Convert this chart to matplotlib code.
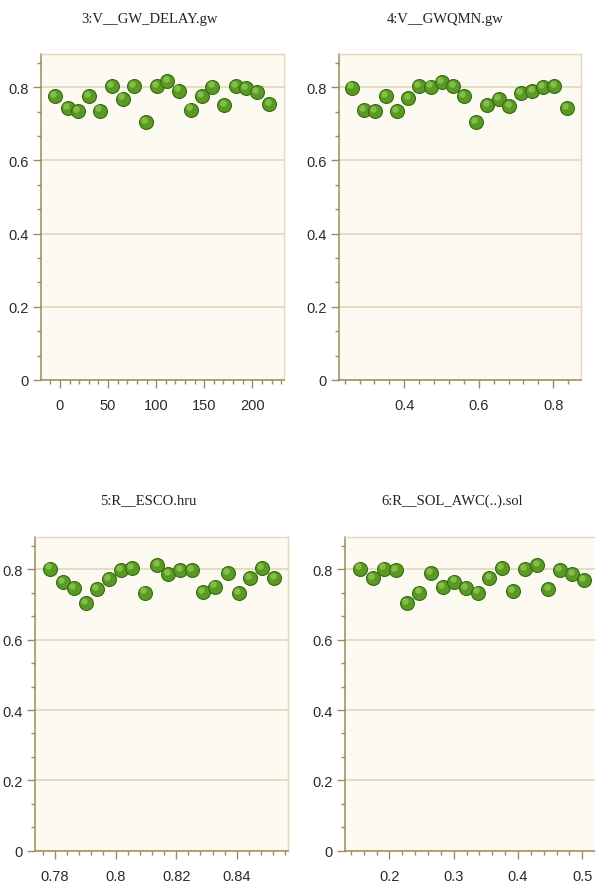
import matplotlib
matplotlib.use("Agg")
import matplotlib.pyplot as plt
from matplotlib.ticker import AutoMinorLocator, FuncFormatter, MultipleLocator
from matplotlib.transforms import ScaledTranslation

# Panel titles
titles = ["3:V__GW_DELAY.gw", "4:V__GWQMN.gw", "5:R__ESCO.hru", "6:R__SOL_AWC(..).sol"]

# Parameter values (x) and objective values (y)
x_gw_delay = [-5, 8, 19, 30, 41.5, 54, 65.7, 77, 89, 100.6, 111.7, 123.4, 135.9, 147.3,
              158.4, 171, 182.6, 193.7, 205, 217.8]
y_gw_delay = [0.775, 0.743, 0.734, 0.776, 0.736, 0.803, 0.769, 0.803, 0.705, 0.803,
              0.816, 0.791, 0.739, 0.776, 0.802, 0.752, 0.803, 0.798, 0.787, 0.754]

x_gwqmn = [0.259, 0.292, 0.321, 0.351, 0.380, 0.411, 0.440, 0.471, 0.502, 0.532,
           0.561, 0.592, 0.623, 0.653, 0.682, 0.713, 0.744, 0.773, 0.803, 0.836]
y_gwqmn = [0.799, 0.737, 0.734, 0.775, 0.734, 0.771, 0.803, 0.802, 0.814, 0.803,
           0.776, 0.705, 0.752, 0.767, 0.749, 0.784, 0.790, 0.801, 0.803, 0.743]

x_esco = [0.7783, 0.7825, 0.7863, 0.7901, 0.7938, 0.7979, 0.8018, 0.8055, 0.8097, 0.8138,
          0.8174, 0.8214, 0.8251, 0.8289, 0.8328, 0.8370, 0.8407, 0.8444, 0.8484, 0.8524]
y_esco = [0.802, 0.764, 0.746, 0.704, 0.743, 0.772, 0.798, 0.803, 0.734, 0.812,
          0.786, 0.798, 0.798, 0.736, 0.751, 0.789, 0.732, 0.775, 0.803, 0.774]

x_sol_awc = [0.1544, 0.1742, 0.1918, 0.2100, 0.2271, 0.2467, 0.2649, 0.2831, 0.3011, 0.3193,
             0.3375, 0.3555, 0.3748, 0.3928, 0.4110, 0.4302, 0.4473, 0.4655, 0.4846, 0.5028]
y_sol_awc = [0.802, 0.774, 0.802, 0.798, 0.704, 0.734, 0.789, 0.750, 0.765, 0.746,
             0.734, 0.775, 0.803, 0.737, 0.800, 0.812, 0.743, 0.798, 0.786, 0.770]

# x ranges / major tick step per panel
xlims = [(-19.7, 232.9), (0.2247, 0.8744), (0.7734, 0.8569), (0.131, 0.523)]
xsteps = [50, 0.2, 0.02, 0.1]

# Axes rectangles in figure fractions (figure is 595 x 887 px)
W, H = 595.0, 887.0
rects = [
    [41 / W, 1 - 381 / H, 243 / W, 326 / H],
    [339 / W, 1 - 381 / H, 242 / W, 326 / H],
    [35 / W, 1 - 851.7 / H, 253 / W, 313.4 / H],
    [345 / W, 1 - 851.7 / H, 252 / W, 313.4 / H],
]
title_pos = [(150, 19), (445, 19), (148, 501), (452, 501)]

SPINE = "#9c8c5a"
GRID = "#ddd3b6"
FACE = "#fcfaf1"
TICKFONT = "Liberation Sans"

fig = plt.figure(figsize=(5.95, 8.87), dpi=100)
fig.patch.set_facecolor("white")

data = [(x_gw_delay, y_gw_delay), (x_gwqmn, y_gwqmn), (x_esco, y_esco), (x_sol_awc, y_sol_awc)]
fmt = FuncFormatter(lambda v, p: "%g" % round(v, 6))

for i, (xs, ys) in enumerate(data):
    ax = fig.add_axes(rects[i])
    ax.set_facecolor(FACE)
    ax.set_xlim(*xlims[i])
    ax.set_ylim(0, 0.891)

    ax.yaxis.set_major_locator(MultipleLocator(0.2))
    ax.yaxis.set_minor_locator(AutoMinorLocator(3))
    ax.xaxis.set_major_locator(MultipleLocator(xsteps[i]))
    ax.xaxis.set_minor_locator(AutoMinorLocator(5))
    ax.xaxis.set_major_formatter(fmt)
    ax.yaxis.set_major_formatter(fmt)

    ax.grid(True, axis="y", color=GRID, linewidth=1.1, zorder=0)
    ax.set_axisbelow(True)

    for s in ["left", "bottom"]:
        ax.spines[s].set_color(SPINE)
        ax.spines[s].set_linewidth(1.1)
    for s in ["top", "right"]:
        ax.spines[s].set_color("#e2d9bd")
        ax.spines[s].set_linewidth(1.0)

    ax.tick_params(which="major", direction="out", length=6, width=1, color=SPINE,
                   labelsize=10.5, labelcolor="#2b2b2b")
    ax.tick_params(which="minor", direction="out", length=3, width=1, color=SPINE)
    ax.tick_params(axis="x", which="major", pad=7)
    ax.tick_params(axis="y", which="major", pad=3)
    ax.tick_params(top=False, right=False, which="both")
    for lab in ax.get_xticklabels() + ax.get_yticklabels():
        lab.set_family(TICKFONT)

    # green balls with a small highlight
    ax.scatter(xs, ys, s=100, color="#5a9a24", edgecolors="#356b10", linewidths=0.8, zorder=3)
    hl = ax.transData + ScaledTranslation(-1.3 / 72, 1.6 / 72, fig.dpi_scale_trans)
    ax.scatter(xs, ys, s=22, color="#93c957", linewidths=0, alpha=0.75, zorder=4, transform=hl)

    tx, ty = title_pos[i]
    fig.text(tx / W, 1 - ty / H, titles[i], ha="center", va="center",
             family="Liberation Serif", fontsize=10.5, color="#222222")

plt.savefig("out.png", dpi=100)
